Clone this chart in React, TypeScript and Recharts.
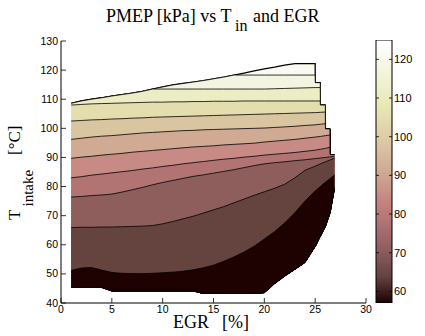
import React from 'react';
import { Area, Bar, BarChart, ComposedChart, XAxis, YAxis } from 'recharts';

// EGR [%] sample positions; near-duplicate points give the stepped right edge
const egr = [1, 2, 3, 4, 5, 6, 7, 8, 9, 10, 11, 12, 13, 14, 15, 16, 17, 18, 19, 20, 21, 22, 23, 24, 25, 25.01, 25.5, 25.51, 26, 26.01, 26.45, 26.46, 26.9];

// outline of the measured region, T_intake [°C]
const upperEdge = [108.6, 109.4, 110.0, 110.5, 111.1, 111.6, 112.1, 112.7, 113.5, 114.2, 114.9, 115.4, 115.9, 116.4, 117.0, 117.6, 118.3, 119.0, 119.7, 120.4, 121.0, 121.7, 122.2, 122.2, 122.2, 115.7, 115.7, 108.0, 108.0, 99.8, 99.8, 91.0, 91.0];
const lowerEdge = [45.4, 45.4, 45.4, 45.4, 44.2, 44.2, 44.2, 44.2, 44.2, 44.2, 44.2, 44.2, 44.2, 43.3, 43.3, 43.3, 43.3, 43.3, 43.3, 43.6, 46.7, 49.3, 51.6, 54.0, 59.5, 59.5, 63.0, 63.0, 66.4, 66.4, 71.0, 71.0, 79.6];

// contour lines (T_intake at each egr), highest PMEP first
const contour1 = [118.3, 118.3, 118.3, 118.3, 118.3, 118.3, 118.3, 118.3, 118.3, 118.3, 118.3, 118.3, 118.3, 118.3, 118.3, 118.3, 118.3, 118.3, 118.3, 118.3, 118.3, 118.3, 118.3, 118.3, 118.3, 118.3, 118.3, 118.3, 118.3, 118.3, 118.3, 118.3, 118.3];
const contour2 = [113.5, 113.5, 113.5, 113.5, 113.5, 113.5, 113.5, 113.5, 113.5, 113.5, 113.5, 113.5, 113.5, 113.5, 113.5, 113.5, 113.5, 113.5, 113.5, 113.5, 113.6, 113.7, 113.8, 113.9, 114.0, 114.0, 114.0, 114.0, 114.0, 114.0, 114.0, 114.0, 114.0];
const contour3 = [108.0, 108.2, 108.4, 108.5, 108.6, 108.7, 108.8, 108.9, 109.0, 109.0, 109.1, 109.1, 109.2, 109.2, 109.3, 109.3, 109.3, 109.4, 109.4, 109.4, 109.4, 109.4, 109.4, 109.4, 109.4, 109.4, 109.4, 109.4, 109.4, 109.4, 109.4, 109.4, 109.4];
const contour4 = [102.5, 102.7, 102.9, 103.0, 103.2, 103.3, 103.5, 103.6, 103.8, 103.9, 104.0, 104.1, 104.2, 104.3, 104.4, 104.5, 104.6, 104.7, 104.8, 104.9, 105.0, 105.1, 105.2, 105.3, 105.4, 105.4, 105.5, 105.5, 105.6, 105.6, 105.7, 105.7, 105.8];
const contour5 = [96.2, 96.6, 97.0, 97.3, 97.5, 97.8, 98.1, 98.4, 98.6, 98.8, 99.0, 99.2, 99.3, 99.5, 99.6, 99.7, 99.8, 99.9, 100.0, 100.1, 100.3, 100.5, 100.7, 101.0, 101.2, 101.2, 101.4, 101.4, 101.6, 101.6, 101.8, 101.8, 102.0];
const contour6 = [89.7, 90.1, 90.4, 90.8, 91.1, 91.4, 91.8, 92.1, 92.4, 92.7, 93.0, 93.3, 93.6, 93.8, 94.0, 94.3, 94.5, 94.7, 94.9, 95.3, 95.6, 95.9, 96.2, 96.6, 97.0, 97.0, 97.2, 97.2, 97.5, 97.5, 97.7, 97.7, 97.9];
const contour7 = [83.0, 83.4, 83.9, 84.3, 84.7, 85.1, 85.5, 86.0, 86.4, 86.9, 87.3, 87.8, 88.2, 88.6, 89.0, 89.4, 89.7, 90.1, 90.4, 90.8, 91.1, 91.4, 91.7, 92.1, 92.5, 92.5, 92.8, 92.8, 93.1, 93.1, 93.5, 93.5, 93.7];
const contour8 = [76.4, 76.6, 76.9, 77.1, 77.4, 78.1, 78.9, 79.7, 80.6, 81.4, 82.1, 82.8, 83.5, 84.0, 84.6, 85.2, 85.8, 86.5, 87.2, 87.8, 88.2, 88.5, 88.9, 89.2, 89.6, 89.6, 89.8, 89.8, 90.0, 90.0, 90.2, 90.2, 90.5];
const contour9 = [65.9, 66.0, 66.0, 66.1, 66.1, 66.2, 66.3, 66.4, 66.6, 67.2, 68.0, 68.9, 69.8, 70.9, 72.0, 73.1, 74.4, 75.7, 77.0, 78.2, 79.4, 80.8, 83.0, 85.6, 87.0, 87.0, 87.8, 87.8, 88.5, 88.5, 89.1, 89.1, 89.8];
const contour10 = [51.2, 52.0, 52.2, 51.3, 50.5, 50.2, 50.1, 50.1, 50.2, 50.4, 50.6, 50.9, 51.4, 52.1, 53.0, 54.3, 55.8, 57.5, 59.5, 62.0, 64.5, 67.5, 71.0, 75.0, 78.5, 78.5, 80.0, 80.0, 81.5, 81.5, 82.7, 82.7, 84.0];

const contours = [contour1, contour2, contour3, contour4, contour5, contour6, contour7, contour8, contour9, contour10];

// fill of each band, top of the region downwards (matlab "pink")
const bandColors = ['#fafaf2', '#f4f4e2', '#ededc5', '#e4ddae', '#dac5a1', '#d0aa93', '#c78a84', '#b27473', '#8e5e5c', '#65433f', '#1e0101'];

const xTicks = [0, 5, 10, 15, 20, 25, 30];
const yTicks = [40, 50, 60, 70, 80, 90, 100, 110, 120, 130];
const barTicks = [60, 70, 80, 90, 100, 110, 120];
const barRange = [57, 125];
const pinkStops: [number, string][] = [
  [0, '#1e0000'], [0.1, '#644242'], [0.2, '#8e5d5d'], [0.3, '#ae7272'], [0.375, '#c38080'],
  [0.4, '#c58984'], [0.5, '#d0aa93'], [0.6, '#dac5a1'], [0.7, '#e4ddae'], [0.75, '#e8e8b4'],
  [0.8, '#ededc5'], [0.9, '#f6f6e4'], [1, '#ffffff'],
];

const sans = "'Liberation Sans', Arial, sans-serif";
const serif = "'Liberation Serif', 'Times New Roman', serif";

// painter's order: each layer fills from the lower edge up to its contour
const rows = egr.map((x, i) => {
  const lo = lowerEdge[i];
  const hi = upperEdge[i];
  const row: Record<string, any> = { egr: x, b0: [lo, hi] };
  contours.forEach((c, k) => {
    row[`b${k + 1}`] = [lo, Math.max(lo, Math.min(c[i], hi))];
  });
  return row;
});

const barRows = [{ name: 'PMEP', span: barRange }];

function BottomTick({ x, y, payload }: any) {
  return (
    <g>
      <line x1={x} x2={x} y1={y} y2={y - 5} stroke="#000" strokeWidth={0.8} />
      <text x={x} y={y + 10} textAnchor="middle" fontSize={10.5} fontFamily={sans}>
        {payload.value}
      </text>
    </g>
  );
}

function TopTick({ x, y }: any) {
  return <line x1={x} x2={x} y1={y} y2={y + 5} stroke="#000" strokeWidth={0.8} />;
}

function LeftTick({ x, y, payload }: any) {
  return (
    <g>
      <line x1={x} x2={x + 5} y1={y} y2={y} stroke="#000" strokeWidth={0.8} />
      <text x={x - 3} y={y + 3.5} textAnchor="end" fontSize={10.5} fontFamily={sans}>
        {payload.value}
      </text>
    </g>
  );
}

function RightTick({ x, y }: any) {
  return <line x1={x} x2={x - 5} y1={y} y2={y} stroke="#000" strokeWidth={0.8} />;
}

function BarLabelTick({ x, y, payload }: any) {
  return (
    <g>
      <line x1={x} x2={x - 3} y1={y} y2={y} stroke="#000" strokeWidth={0.8} />
      <line x1={x - 16} x2={x - 13} y1={y} y2={y} stroke="#000" strokeWidth={0.8} />
      <text x={x + 2} y={y + 4} textAnchor="start" fontSize={11} fontFamily={sans}>
        {payload.value}
      </text>
    </g>
  );
}

export default function App() {
  return (
    <div style={{ position: 'absolute', left: 0, top: 0, width: 425, height: 336, background: '#fff' }}>
      <div style={{ position: 'absolute', left: 0, top: 0 }}>
        <ComposedChart width={425} height={336} data={rows} margin={{ top: 41, right: 59, bottom: 13, left: 0 }}>
          <XAxis
            dataKey="egr"
            type="number"
            domain={[0, 30]}
            ticks={xTicks}
            interval={0}
            height={20}
            tickSize={0}
            tickMargin={0}
            tickLine={false}
            axisLine={{ stroke: '#000', strokeWidth: 1 }}
            tick={<BottomTick />}
          />
          <XAxis
            xAxisId="top"
            orientation="top"
            dataKey="egr"
            type="number"
            domain={[0, 30]}
            ticks={xTicks}
            interval={0}
            height={0}
            tickSize={0}
            tickMargin={0}
            tickLine={false}
            axisLine={{ stroke: '#000', strokeWidth: 1 }}
            tick={<TopTick />}
          />
          <YAxis
            type="number"
            domain={[40, 130]}
            ticks={yTicks}
            interval={0}
            width={61}
            tickSize={0}
            tickMargin={0}
            tickLine={false}
            axisLine={{ stroke: '#000', strokeWidth: 1 }}
            tick={<LeftTick />}
          />
          <YAxis
            yAxisId="right"
            orientation="right"
            type="number"
            domain={[40, 130]}
            ticks={yTicks}
            interval={0}
            width={0}
            tickSize={0}
            tickMargin={0}
            tickLine={false}
            axisLine={{ stroke: '#000', strokeWidth: 1 }}
            tick={<RightTick />}
          />
          {bandColors.map((color, k) => (
            <Area
              key={k}
              type="linear"
              dataKey={`b${k}`}
              stroke="#000"
              strokeWidth={k === 0 ? 1.3 : 0.8}
              fill={color}
              fillOpacity={1}
              dot={false}
              activeDot={false}
              isAnimationActive={false}
            />
          ))}
        </ComposedChart>
      </div>

      <div style={{ position: 'absolute', left: 370, top: 0 }}>
        <BarChart
          width={60}
          height={336}
          data={barRows}
          margin={{ top: 40, right: 0, bottom: 33, left: 6 }}
          barCategoryGap={0}
        >
          <defs>
            <linearGradient id="pinkmap" x1="0" y1="1" x2="0" y2="0">
              {pinkStops.map(([t, c]) => (
                <stop key={t} offset={t} stopColor={c} />
              ))}
            </linearGradient>
          </defs>
          <XAxis dataKey="name" hide />
          <YAxis
            orientation="right"
            type="number"
            domain={barRange}
            ticks={barTicks}
            interval={0}
            width={38}
            tickSize={0}
            tickMargin={0}
            tickLine={false}
            axisLine={false}
            tick={<BarLabelTick />}
            allowDataOverflow
          />
          <Bar dataKey="span" fill="url(#pinkmap)" stroke="#000" strokeWidth={1} isAnimationActive={false} />
        </BarChart>
      </div>

      <svg width={425} height={336} style={{ position: 'absolute', left: 0, top: 0, pointerEvents: 'none' }}>
        <text x={106} y={22} fontSize={18} fontFamily={serif}>
          PMEP [kPa] vs T
        </text>
        <text x={235} y={31} fontSize={16} fontFamily={serif}>
          in
        </text>
        <text x={253} y={22} fontSize={18} fontFamily={serif}>
          and EGR
        </text>
        <text x={173} y={328} fontSize={18} fontFamily={serif}>
          EGR
        </text>
        <text x={222} y={328} fontSize={18} fontFamily={serif}>
          [%]
        </text>
        <g transform="translate(20, 0) rotate(-90)">
          <text x={-220} y={0} fontSize={17} fontFamily={serif}>
            T
          </text>
          <text x={-206.5} y={13} fontSize={15} fontFamily={serif}>
            intake
          </text>
          <text x={-155} y={0} fontSize={17} fontFamily={serif}>
            [°C]
          </text>
        </g>
      </svg>
    </div>
  );
}
